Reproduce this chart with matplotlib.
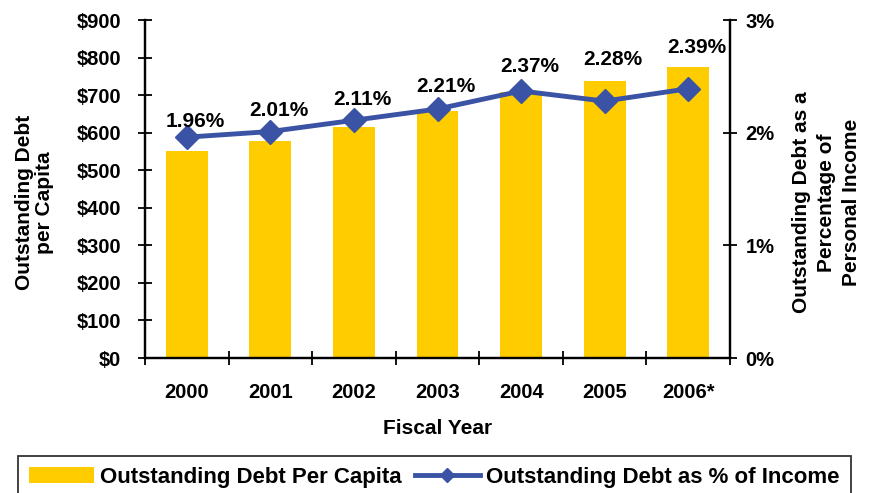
import matplotlib.pyplot as plt
from matplotlib.lines import Line2D
from matplotlib.patches import Patch

plt.rcParams['font.family'] = ['Liberation Sans', 'DejaVu Sans']
plt.rcParams['font.weight'] = 'bold'

years = ["2000", "2001", "2002", "2003", "2004", "2005", "2006*"]
debt_per_capita = [551, 578, 615, 658, 707, 738, 776]
debt_pct_income = [1.96, 2.01, 2.11, 2.21, 2.37, 2.28, 2.39]

bar_color = "#FFCC00"
line_color = "#3A53A4"

# vertical offset (points) of each percentage label above its marker
label_dy = [7, 11, 11, 12, 14, 26, 26]

fig = plt.figure(figsize=(8.69, 4.93), dpi=100)
ax = fig.add_axes([145 / 869, 1 - 358 / 493, (730 - 145) / 869, (358 - 20) / 493])
ax2 = ax.twinx()

x = list(range(len(years)))
ax.bar(x, debt_per_capita, width=0.5, color=bar_color, zorder=2)
ax.set_xlim(-0.5, len(years) - 0.5)
ax.set_ylim(0, 900)
ax.set_yticks(range(0, 901, 100))
ax.set_yticklabels(["${}".format(v) for v in range(0, 901, 100)])
# tick marks between categories, labels centred under the bars
ax.set_xticks([i - 0.5 for i in range(len(years) + 1)])
ax.set_xticklabels([])
ax.set_xticks(x, minor=True)
ax.set_xticklabels(years, minor=True)
ax.tick_params(axis='x', which='major', direction='inout', length=10, width=1.3)
ax.tick_params(axis='x', which='minor', length=0, pad=18, labelsize=14.5)
ax.tick_params(axis='y', direction='inout', length=10, width=1.3, labelsize=14.5, pad=12)
ax.set_xlabel("Fiscal Year", fontsize=15, fontweight='bold', labelpad=12)
ax.set_ylabel("Outstanding Debt\nper Capita", fontsize=15, fontweight='bold', linespacing=1.1)
ax.yaxis.set_label_coords(-0.155, 0.46)

ax2.plot(x, debt_pct_income, color=line_color, lw=3.5, marker='D', markersize=12, zorder=3)
for xi, v, dy in zip(x, debt_pct_income, label_dy):
    ax2.annotate("{:.2f}%".format(v), (xi, v), xytext=(6, dy), textcoords='offset points',
                 ha='center', va='baseline', fontsize=15, fontweight='bold')
ax2.set_ylim(0, 3)
ax2.set_yticks([0, 1, 2, 3])
ax2.set_yticklabels(["0%", "1%", "2%", "3%"])
ax2.tick_params(axis='y', direction='inout', length=10, width=1.3, labelsize=14.5, pad=6)
ax2.set_ylabel("Outstanding Debt as a\nPercentage of\nPersonal Income", fontsize=15,
               fontweight='bold', rotation=90, linespacing=1.4)
ax2.yaxis.set_label_coords(1.106, 0.46)

for a in (ax, ax2):
    a.spines['top'].set_visible(False)
    for s in ('left', 'right', 'bottom'):
        a.spines[s].set_linewidth(1.6)
ax.set_zorder(ax2.get_zorder() - 1)
ax2.patch.set_visible(False)

handles = [Patch(facecolor=bar_color, label="Outstanding Debt Per Capita"),
           Line2D([0], [0], color=line_color, lw=3.5, marker='D', markersize=7,
                  label="Outstanding Debt as % of Income")]
leg = fig.legend(handles=handles, loc='lower center', bbox_to_anchor=(0.5, -0.012), ncol=2,
                 frameon=True, fancybox=False, edgecolor='black', fontsize=16,
                 handlelength=2.9, columnspacing=0.6, handletextpad=0.3, borderpad=0.5,
                 borderaxespad=0)
leg.get_frame().set_linewidth(1.3)

fig.savefig("out.png", dpi=100)
